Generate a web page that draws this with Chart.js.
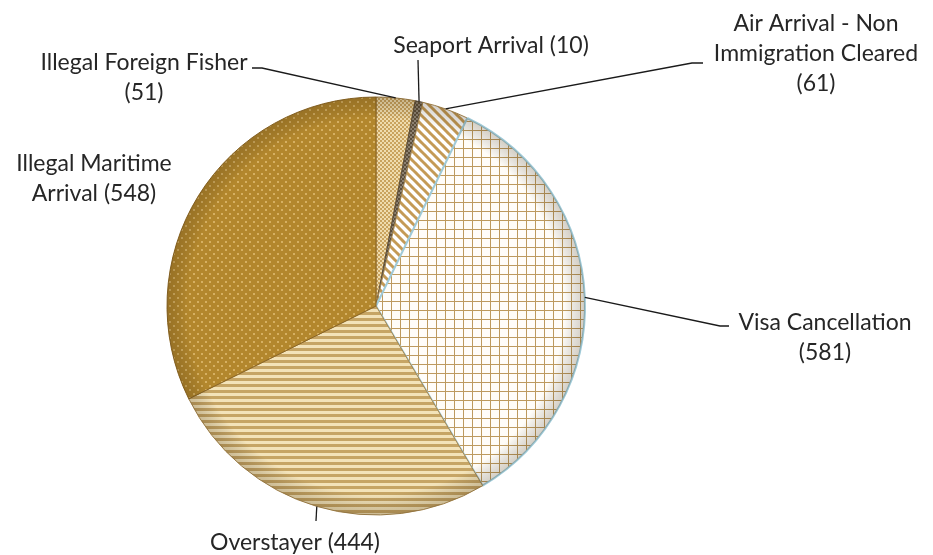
<!DOCTYPE html>
<html>
<head>
<meta charset="utf-8">
<script src="https://cdn.jsdelivr.net/npm/chart.js@4.4.1/dist/chart.umd.min.js"></script>
<style>
  html, body { margin: 0; padding: 0; background: #fff; }
  #wrap { width: 933px; height: 555px; position: relative; }
</style>
</head>
<body>
<div id="wrap"><canvas id="chart"></canvas></div>
<script>
const categories = ['Illegal Foreign Fisher', 'Seaport Arrival', 'Air Arrival - Non Immigration Cleared',
  'Visa Cancellation', 'Overstayer', 'Illegal Maritime Arrival'];
const counts = [51, 10, 61, 581, 444, 548];

// label text lines ({v} is replaced by the count)
const labelLines = [
  ['Illegal Foreign Fisher', '({v})'],
  ['Seaport Arrival ({v})'],
  ['Air Arrival - Non', 'Immigration Cleared', '({v})'],
  ['Visa Cancellation', '({v})'],
  ['Overstayer ({v})'],
  ['Illegal Maritime', 'Arrival ({v})']
];

// label placement: text centre, first baseline, elbow + stub end of the leader
const labelPlace = [
  { x: 144, y: 70, elbow: [262, 68], end: [252, 68] },
  { x: 491, y: 53, elbow: null, end: [418, 60], vertical: true },
  { x: 816, y: 31, elbow: [692, 63], end: [703, 63] },
  { x: 825, y: 330, elbow: [720, 326], end: [729, 326] },
  { x: 295, y: 550, elbow: null, end: [316, 521], vertical: true },
  { x: 94, y: 171, elbow: null, end: null }
];

function makePattern(w, h, draw) {
  const c = document.createElement('canvas');
  c.width = w; c.height = h;
  const g = c.getContext('2d');
  draw(g, w, h);
  return g.createPattern(c, 'repeat');
}

const patterns = [
  // fisher: fine tan check
  makePattern(4, 4, (g) => {
    g.fillStyle = '#efdcae'; g.fillRect(0, 0, 4, 4);
    g.fillStyle = '#c9a35e'; g.fillRect(0, 0, 2, 2); g.fillRect(2, 2, 2, 2);
  }),
  // seaport: dark
  makePattern(4, 4, (g) => {
    g.fillStyle = '#8d8272'; g.fillRect(0, 0, 4, 4);
    g.fillStyle = '#5c4e3a'; g.fillRect(0, 0, 2, 2); g.fillRect(2, 2, 2, 2);
  }),
  // air arrival: diagonal stripes
  makePattern(9, 9, (g) => {
    g.fillStyle = '#ffffff'; g.fillRect(0, 0, 9, 9);
    g.strokeStyle = '#c49a55'; g.lineWidth = 3;
    for (let k = -9; k <= 9; k += 9) {
      g.beginPath(); g.moveTo(k - 1, -1); g.lineTo(k + 10, 10); g.stroke();
    }
  }),
  // visa: grid
  makePattern(9, 9, (g) => {
    g.fillStyle = '#fffdf8'; g.fillRect(0, 0, 9, 9);
    g.fillStyle = '#bd9a5e'; g.fillRect(0, 4, 9, 1); g.fillRect(4, 0, 1, 9);
  }),
  // overstayer: horizontal stripes
  makePattern(6, 6, (g) => {
    g.fillStyle = '#f3e3b9'; g.fillRect(0, 0, 6, 6);
    g.fillStyle = '#c6a565'; g.fillRect(0, 0, 6, 3);
  }),
  // maritime: dark gold with light dots
  makePattern(8, 8, (g) => {
    g.fillStyle = '#b3872d'; g.fillRect(0, 0, 8, 8);
    g.fillStyle = '#d6b062'; g.fillRect(1, 1, 2, 2); g.fillRect(5, 5, 2, 2);
  })
];

const rimShade = {
  id: 'rimShade',
  afterDatasetsDraw(chart) {
    const arc = chart.getDatasetMeta(0).data[0];
    if (!arc) return;
    const ctx = chart.ctx;
    const r = arc.outerRadius;
    const grad = ctx.createRadialGradient(arc.x, arc.y, r * 0.9, arc.x, arc.y, r);
    grad.addColorStop(0, 'rgba(0,0,0,0)');
    grad.addColorStop(1, 'rgba(60,40,10,0.22)');
    ctx.save();
    ctx.beginPath();
    ctx.arc(arc.x, arc.y, r, 0, Math.PI * 2);
    ctx.fillStyle = grad;
    ctx.fill();
    ctx.restore();
  }
};

const pieLabels = {
  id: 'pieLabels',
  afterDraw(chart) {
    const ctx = chart.ctx;
    const meta = chart.getDatasetMeta(0);
    ctx.save();
    ctx.font = '23px Lato, "Open Sans", sans-serif';
    ctx.fillStyle = '#262626';
    ctx.textAlign = 'center';
    ctx.textBaseline = 'alphabetic';
    meta.data.forEach((arc, i) => {
      const p = labelPlace[i];
      const lines = labelLines[i].map(s => s.replace('{v}', counts[i]));
      lines.forEach((s, k) => ctx.fillText(s, p.x, p.y + k * 30));
      if (!p.end) return;
      const mid = (arc.startAngle + arc.endAngle) / 2;
      const sx = arc.x + Math.cos(mid) * arc.outerRadius;
      const sy = arc.y + Math.sin(mid) * arc.outerRadius;
      ctx.beginPath();
      ctx.strokeStyle = '#1a1a1a';
      ctx.lineWidth = 1.3;
      ctx.moveTo(sx, sy);
      if (p.vertical) {
        ctx.lineTo(p.end[0], p.end[1]);
      } else {
        ctx.lineTo(p.elbow[0], p.elbow[1]);
        ctx.lineTo(p.end[0], p.end[1]);
      }
      ctx.stroke();
    });
    ctx.restore();
  }
};

const canvas = document.getElementById('chart');
canvas.width = 933; canvas.height = 555;

new Chart(canvas, {
  type: 'pie',
  data: {
    labels: categories,
    datasets: [{
      data: counts,
      backgroundColor: patterns,
      borderColor: ['#9a7a44', '#5c4e3a', '#a58650', '#9fcad8', '#a58650', '#8a6524'],
      borderWidth: [1, 1, 1, 2, 1, 1],
      radius: 209
    }]
  },
  options: {
    responsive: false,
    animation: false,
    layout: { padding: { left: 100, right: 281, top: 96, bottom: 39 } },
    plugins: {
      legend: { display: false },
      tooltip: { enabled: false }
    }
  },
  plugins: [rimShade, pieLabels]
});
</script>
</body>
</html>
